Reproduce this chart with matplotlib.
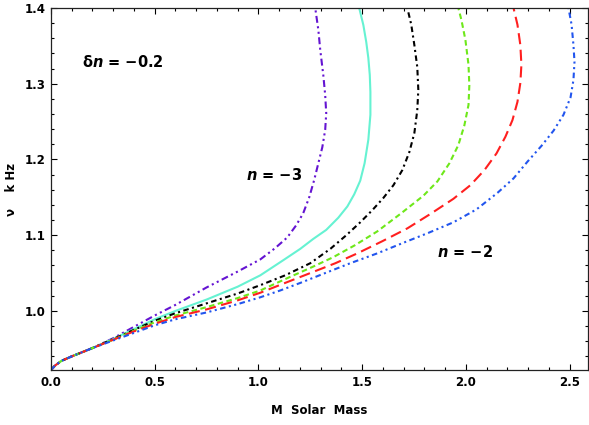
import matplotlib
matplotlib.use('Agg')
import matplotlib.pyplot as plt
from matplotlib.ticker import MultipleLocator, FormatStrFormatter

plt.rcParams['font.family'] = 'DejaVu Sans'
plt.rcParams['font.weight'] = 'bold'
plt.rcParams['lines.scale_dashes'] = False

# curvas M(nu), de n = -3 a n = -2 (paso delta n = -0.2)
masa_n30 = [0, 0.02, 0.05, 0.10, 0.20, 0.30, 0.40, 0.50, 0.60, 0.75, 0.90, 1.009, 1.081, 1.139, 1.182, 1.216,
            1.245, 1.269, 1.289, 1.308, 1.322, 1.327, 1.322, 1.313, 1.298, 1.289, 1.274]
nu_n30 = [0.922, 0.928, 0.934, 0.940, 0.951, 0.964, 0.979, 0.994, 1.008, 1.031, 1.052, 1.068, 1.083, 1.097, 1.113, 1.129,
          1.150, 1.173, 1.195, 1.216, 1.239, 1.261, 1.285, 1.311, 1.345, 1.371, 1.400]

masa_n28 = [0, 0.02, 0.05, 0.10, 0.20, 0.30, 0.40, 0.50, 0.60, 0.75, 0.90, 1.009, 1.12, 1.202, 1.264, 1.327,
            1.385, 1.429, 1.462, 1.491, 1.512, 1.53, 1.54, 1.54, 1.537, 1.53, 1.52, 1.506, 1.486]
nu_n28 = [0.922, 0.928, 0.934, 0.940, 0.951, 0.963, 0.976, 0.989, 1.000, 1.015, 1.032, 1.047, 1.067, 1.082, 1.095, 1.107,
          1.123, 1.138, 1.154, 1.172, 1.195, 1.226, 1.259, 1.289, 1.3115, 1.334, 1.355, 1.3775, 1.400]

masa_n26 = [0, 0.02, 0.05, 0.10, 0.20, 0.30, 0.40, 0.50, 0.60, 0.75, 0.90, 1.009, 1.129, 1.25, 1.347, 1.424,
            1.491, 1.549, 1.602, 1.651, 1.694, 1.728, 1.752, 1.766, 1.771, 1.766, 1.752, 1.737, 1.718]
nu_n26 = [0.922, 0.928, 0.934, 0.940, 0.951, 0.963, 0.975, 0.987, 0.997, 1.010, 1.023, 1.034, 1.047, 1.063, 1.082, 1.100,
          1.117, 1.133, 1.149, 1.166, 1.186, 1.210, 1.235, 1.265, 1.292, 1.322, 1.351, 1.378, 1.400]

masa_n24 = [0, 0.02, 0.05, 0.10, 0.20, 0.30, 0.40, 0.50, 0.60, 0.75, 0.90, 1.009, 1.153, 1.26, 1.361, 1.467,
            1.573, 1.684, 1.795, 1.863, 1.921, 1.964, 1.993, 2.013, 2.017, 2.013, 1.998, 1.979, 1.964]
nu_n24 = [0.922, 0.928, 0.934, 0.940, 0.951, 0.962, 0.974, 0.985, 0.994, 1.005, 1.017, 1.027, 1.045, 1.058, 1.071, 1.087,
          1.105, 1.128, 1.152, 1.171, 1.195, 1.219, 1.245, 1.272, 1.298, 1.325, 1.358, 1.384, 1.400]

masa_n22 = [0, 0.02, 0.05, 0.10, 0.20, 0.30, 0.40, 0.50, 0.60, 0.75, 0.90, 1.009, 1.129, 1.25, 1.371, 1.477,
            1.597, 1.718, 1.829, 1.94, 2.022, 2.09, 2.148, 2.191, 2.225, 2.249, 2.263, 2.268, 2.263, 2.249, 2.23]
nu_n22 = [0.922, 0.928, 0.934, 0.940, 0.951, 0.962, 0.973, 0.983, 0.992, 1.002, 1.014, 1.024, 1.037, 1.050, 1.063, 1.076,
          1.092, 1.109, 1.128, 1.148, 1.166, 1.186, 1.208, 1.230, 1.252, 1.276, 1.301, 1.325, 1.351, 1.378, 1.400]

masa_n20 = [0, 0.02, 0.05, 0.10, 0.20, 0.30, 0.40, 0.50, 0.60, 0.75, 0.90, 1.009, 1.105, 1.202, 1.322, 1.443,
            1.573, 1.699, 1.819, 1.94, 2.051, 2.153, 2.23, 2.297, 2.365, 2.423, 2.471, 2.505, 2.519, 2.524,
            2.519, 2.51, 2.495]
nu_n20 = [0.922, 0.928, 0.934, 0.940, 0.951, 0.961, 0.971, 0.981, 0.989, 0.998, 1.009, 1.018, 1.027, 1.037, 1.050, 1.063,
          1.076, 1.090, 1.103, 1.117, 1.134, 1.156, 1.175, 1.197, 1.218, 1.238, 1.259, 1.282, 1.305, 1.329,
          1.351, 1.378, 1.400]

curvas = [
    (masa_n30, nu_n30, '#6414d2', (0, (5, 2.5, 1.5, 2.5, 1.5, 2.5))),
    (masa_n28, nu_n28, '#66f2d2', '-'),
    (masa_n26, nu_n26, 'black', (0, (4, 2.5, 1.5, 2.5))),
    (masa_n24, nu_n24, '#6ee81a', (0, (4, 2.5))),
    (masa_n22, nu_n22, '#ff1f1f', (0, (8, 4))),
    (masa_n20, nu_n20, '#2255ee', (0, (4, 2.5, 1.5, 2.5, 1.5, 2.5))),
]

fig = plt.figure(figsize=(5.89, 4.25), dpi=100)
ax = fig.add_axes([0.0866, 0.1294, 0.912, 0.8518])

for masa, nu, color, estilo in curvas:
    ax.plot(masa, nu, color=color, linestyle=estilo, linewidth=1.5)

ax.set_xlim(0, 2.59)
ax.set_ylim(0.922, 1.4)
ax.xaxis.set_major_locator(MultipleLocator(0.5))
ax.xaxis.set_minor_locator(MultipleLocator(0.1))
ax.yaxis.set_major_locator(MultipleLocator(0.1))
ax.yaxis.set_minor_locator(MultipleLocator(0.02))
ax.xaxis.set_major_formatter(FormatStrFormatter('%.1f'))
ax.yaxis.set_major_formatter(FormatStrFormatter('%.1f'))
ax.tick_params(which='both', direction='in', top=True, right=True, labelsize=8.5, width=0.8)
ax.tick_params(which='major', length=4.5, pad=4)
ax.tick_params(which='minor', length=2.5)
for s in ax.spines.values():
    s.set_linewidth(0.9)
    s.set_color('#222222')

ax.set_xlabel('M  Solar  Mass', fontsize=8.5, fontweight='bold', labelpad=11)
ax.set_ylabel('ν    k Hz', fontsize=8.5, fontweight='bold', labelpad=5)

ax.text(0.15, 1.329, r'$\mathbf{\delta}\boldsymbol{n}$ = −0.2', fontsize=10.5, fontweight='bold', va='center')
ax.text(0.94, 1.179, r'$\boldsymbol{n}$ = −3', fontsize=10.5, fontweight='bold', va='center')
ax.text(1.86, 1.078, r'$\boldsymbol{n}$ = −2', fontsize=10.5, fontweight='bold', va='center')

fig.savefig('out.png', dpi=100)
